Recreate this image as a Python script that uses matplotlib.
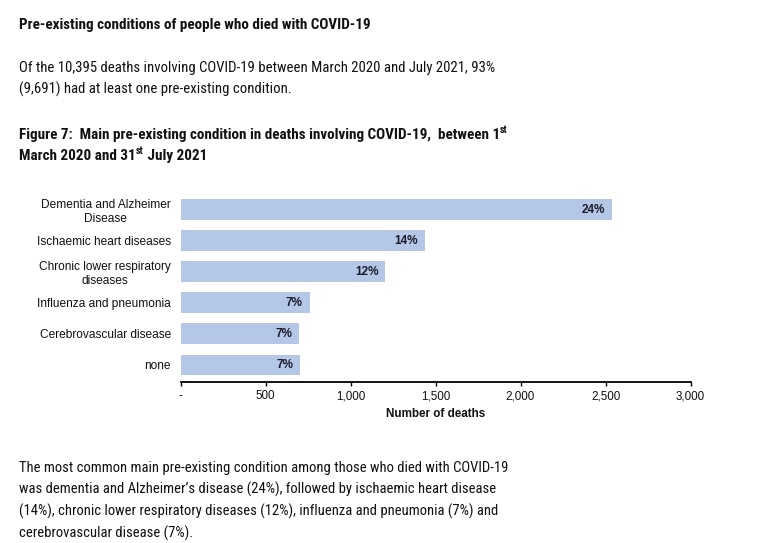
import matplotlib.pyplot as plt
from matplotlib.ticker import FuncFormatter

# -------------------------------------------------------
# Dane
# -------------------------------------------------------
conditions = [
    "Dementia and Alzheimer\nDisease",
    "Ischaemic heart diseases",
    "Chronic lower respiratory\ndiseases",
    "Influenza and pneumonia",
    "Cerebrovascular disease",
    "none",
]
deaths = [2540, 1438, 1205, 760, 699, 703]
shares = ["24%", "14%", "12%", "7%", "7%", "7%"]
x_ticks = [0, 500, 1000, 1500, 2000, 2500, 3000]

NARROW = "Roboto Condensed"
ARIAL = "Liberation Sans"
BAR = "#b4c7e7"
TXT = "#111111"
W, H = 768, 543

fig = plt.figure(figsize=(7.68, 5.43), dpi=100)
renderer = fig.canvas.get_renderer()


def put_line(x, baseline, parts, size=10.9, sup_size=7.2, rise=5.5):
    """Składa jedną linię z kawałków tekstu; (tekst, True) = indeks górny."""
    for txt, sup in parts:
        y = baseline - rise if sup else baseline
        t = fig.text(x / W, 1 - y / H, txt, family=NARROW, weight="bold",
                     fontsize=sup_size if sup else size, color=TXT, va="baseline")
        x += t.get_window_extent(renderer).width + (1 if sup else 0)


# teksty nad i pod wykresem
fig.text(19 / W, 1 - 25 / H, "Pre-existing conditions of people who died with COVID-19",
         family=NARROW, weight="bold", fontsize=10.9, color=TXT, va="center")
fig.text(19 / W, 1 - 79 / H,
         "Of the 10,395 deaths involving COVID-19 between March 2020 and July 2021, 93%\n"
         "(9,691) had at least one pre-existing condition.",
         family=NARROW, fontsize=10.6, color=TXT, va="center", linespacing=1.5)
put_line(19, 138.5, [("Figure 7:  Main pre-existing condition in deaths involving COVID-19,  between 1", False),
                     ("st", True)])
put_line(19, 160, [("March 2020 and 31", False), ("st", True), (" July 2021", False)])
fig.text(19 / W, 1 - 501 / H,
         "The most common main pre-existing condition among those who died with COVID-19\n"
         "was dementia and Alzheimer\u2019s disease (24%), followed by ischaemic heart disease\n"
         "(14%), chronic lower respiratory diseases (12%), influenza and pneumonia (7%) and\n"
         "cerebrovascular disease (7%).",
         family=NARROW, fontsize=10.5, color=TXT, va="center", linespacing=1.56)

# -------------------------------------------------------
# Wykres słupkowy
# -------------------------------------------------------
ax = fig.add_axes([180.5 / W, 0.297, 510 / W, 0.348])
pos = list(range(len(conditions)))
ax.barh(pos, deaths, height=0.67, color=BAR)
for p, d, s in zip(pos, deaths, shares):
    ax.annotate(s, (d, p), xytext=(-5, 0), textcoords="offset points",
                ha="right", va="center", fontsize=8.5, weight="bold",
                family=ARIAL, color="#1a1a2a")

ax.set_xlim(0, 3000)
ax.set_ylim(5.54, -0.54)
ax.set_yticks(pos)
ax.set_yticklabels(conditions, family=ARIAL, fontsize=8.6, color=TXT,
                   multialignment="center", linespacing=1.25)
ax.tick_params(axis="y", length=0, pad=7)
ax.set_xticks(x_ticks)
ax.xaxis.set_major_formatter(FuncFormatter(lambda v, _: "-" if v == 0 else f"{int(v):,}"))
ax.tick_params(axis="x", length=3, width=1, direction="out", pad=3, labelsize=8.4,
               labelcolor=TXT)
for lab in ax.get_xticklabels():
    lab.set_family(ARIAL)
ax.set_xlabel("Number of deaths", family=ARIAL, weight="bold", fontsize=8.4,
              color=TXT, labelpad=4)

for side in ["top", "right", "left"]:
    ax.spines[side].set_visible(False)
ax.spines["bottom"].set_linewidth(1.3)

fig.savefig("out.png", dpi=100)
